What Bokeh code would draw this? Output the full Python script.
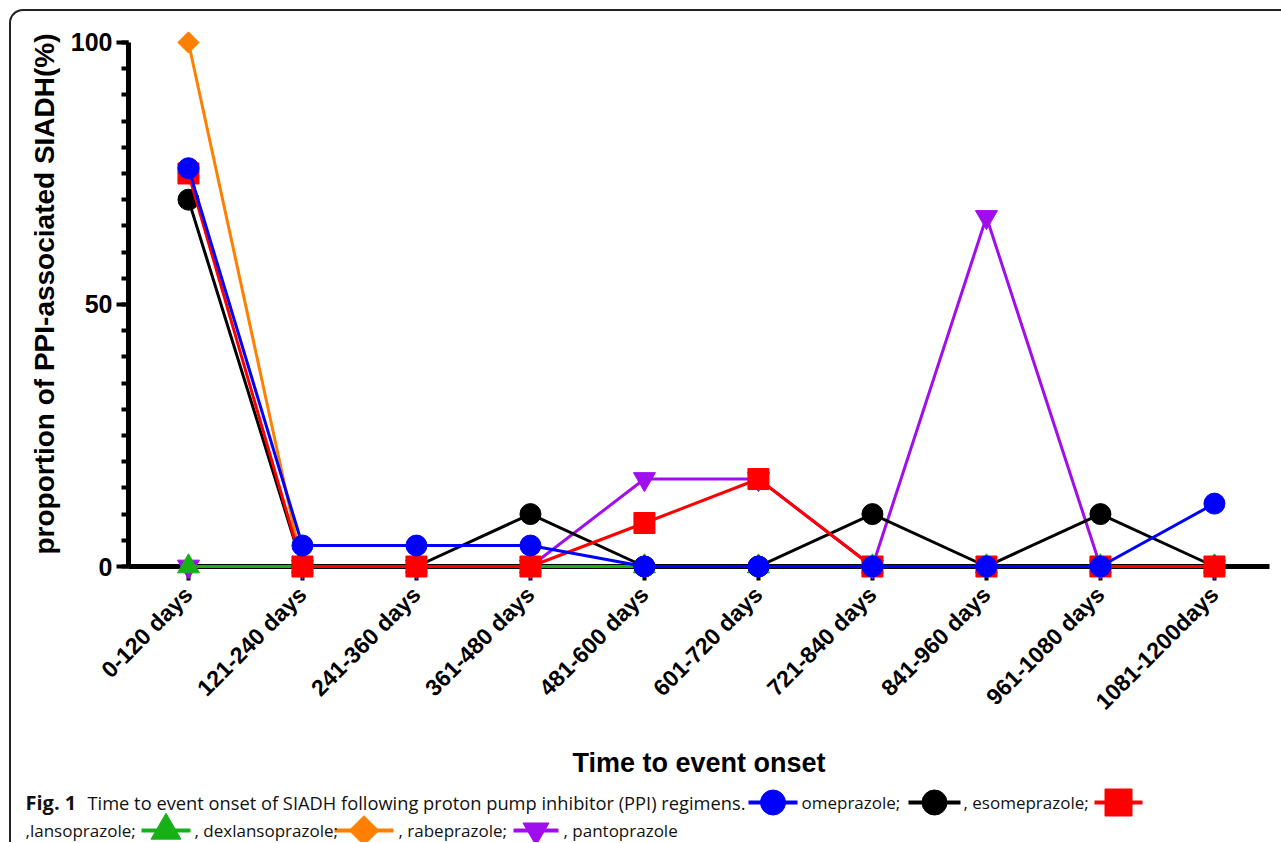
import math
from bokeh.plotting import figure
from bokeh.models import FixedTicker, Range1d, ColumnDataSource
from bokeh.layouts import column
from bokeh.embed import file_html
from bokeh.resources import INLINE
from bokeh.core.properties import value

# ---------------- data ----------------
categories = ["0-120 days", "121-240 days", "241-360 days", "361-480 days",
              "481-600 days", "601-720 days", "721-840 days", "841-960 days",
              "961-1080 days", "1081-1200days"]
omeprazole = [76, 4, 4, 4, 0, 0, 0, 0, 0, 12]
esomeprazole = [70, 0, 0, 10, 0, 0, 10, 0, 10, 0]
lansoprazole = [75, 0, 0, 0, 8.3, 16.7, 0, 0, 0, 0]
dexlansoprazole = [0, 0, 0, 0, 0, 0, 0, 0, 0, 0]
rabeprazole = [100, 0, 0, 0, 0, 0, 0, 0, 0, 0]
pantoprazole = [0, 0, 0, 0, 16.7, 16.7, 0, 66.7, 0, 0]
y_major_ticks = [0, 50, 100]
y_minor_ticks = [0, 5, 10, 15, 20, 25, 30, 35, 40, 45, 50, 55, 60, 65, 70,
                 75, 80, 85, 90, 95, 100]

series_names = ["pantoprazole", "rabeprazole", "dexlansoprazole",
                "esomeprazole", "lansoprazole", "omeprazole"]
series_values = [pantoprazole, rabeprazole, dexlansoprazole,
                 esomeprazole, lansoprazole, omeprazole]
series_colors = ["#A00EEE", "#FF7F00", "#18B018", "#000000", "#FF0000", "#0000FF"]
series_markers = ["inverted_triangle", "square", "triangle", "circle", "square", "circle"]
series_sizes = [22, 15, 22, 21, 21, 21]
series_angles = [0, math.pi / 4, 0, 0, 0, 0]

FONT = "Liberation Sans"
x_idx = list(range(len(categories)))

# ---------------- main chart ----------------
p = figure(width=1270, height=771,
           x_range=Range1d(-0.526, 9.483), y_range=Range1d(0, 104),
           output_backend="svg", toolbar_location=None,
           min_border_left=117, min_border_right=12, min_border_top=10,
           min_border_bottom=216)
p.outline_line_color = None
p.xgrid.visible = False
p.ygrid.visible = False
p.background_fill_color = None
p.border_fill_color = None

for name, vals, col, mk, sz, ang in zip(series_names, series_values, series_colors,
                                       series_markers, series_sizes, series_angles):
    src = ColumnDataSource(dict(x=x_idx, y=vals))
    rl = p.line("x", "y", source=src, line_color=col, line_width=3)
    rl.level = "overlay"
    rs = p.scatter("x", "y", source=src, marker=mk, size=sz, angle=ang,
                   fill_color=col, line_color=col, line_width=1)
    rs.level = "overlay"

# y axis
ya = p.yaxis[0]
ya.ticker = FixedTicker(ticks=y_major_ticks, minor_ticks=y_minor_ticks)
ya.bounds = (0, 100)
ya.axis_line_width = 5
ya.major_tick_line_width = 4
ya.minor_tick_line_width = 4
ya.major_tick_out = 12
ya.major_tick_in = 0
ya.minor_tick_out = 7
ya.minor_tick_in = 0
ya.major_label_text_font = FONT
ya.major_label_text_font_style = "bold"
ya.major_label_text_font_size = "25px"
ya.major_label_text_color = "black"
ya.major_label_standoff = 4
ya.axis_label = "proportion of PPI-associated SIADH(%)"
ya.axis_label_text_font = FONT
ya.axis_label_text_font_style = "bold"
ya.axis_label_text_font_size = "28px"
ya.axis_label_text_color = "black"
ya.axis_label_standoff = 8

# x axis
xa = p.xaxis[0]
xa.ticker = FixedTicker(ticks=x_idx, minor_ticks=[])
xa.major_label_overrides = {i: c for i, c in zip(x_idx, categories)}
xa.major_label_orientation = math.pi / 4
xa.axis_line_width = 5
xa.major_tick_line_width = 4
xa.major_tick_out = 14
xa.major_tick_in = 0
xa.minor_tick_out = 0
xa.minor_tick_in = 0
xa.major_label_text_font = FONT
xa.major_label_text_font_style = "bold"
xa.major_label_text_font_size = "23px"
xa.major_label_text_color = "black"
xa.major_label_standoff = 10
xa.axis_label = "Time to event onset"
xa.axis_label_text_font = FONT
xa.axis_label_text_font_style = "bold"
xa.axis_label_text_font_size = "27px"
xa.axis_label_text_color = "black"
xa.axis_label_standoff = 21

# ---------------- caption ----------------
cap_texts = ["omeprazole;", ", esomeprazole;", ",lansoprazole;",
             ", dexlansoprazole;", ", rabeprazole;", ", pantoprazole"]
cap_tx = [801, 963, 25, 194, 398, 563]
cap_ty = [802, 802, 830, 830, 830, 830]

leg_colors = ["#0000FF", "#000000", "#FF0000", "#18B018", "#FF7F00", "#A00EEE"]
leg_markers = ["circle", "circle", "square", "triangle", "square", "inverted_triangle"]
leg_sizes = [25, 25, 27, 30, 21, 26]
leg_angles = [0, 0, 0, 0, math.pi / 4, 0]
leg_x0 = [748, 908, 1094, 141, 334, 513]
leg_x1 = [797, 960, 1142, 190, 393, 558]
leg_y = [802, 802, 802, 830, 830, 830]

cap = figure(width=1270, height=60, x_range=Range1d(128, 1269), y_range=Range1d(842, 782),
             output_backend="svg", toolbar_location=None,
             x_axis_type=None, y_axis_type=None,
             min_border_left=117, min_border_right=12, min_border_top=0,
             min_border_bottom=0)
cap.outline_line_color = None
cap.xgrid.visible = False
cap.ygrid.visible = False
cap.background_fill_color = None
cap.border_fill_color = None

cap.segment(x0=leg_x0, y0=leg_y, x1=leg_x1, y1=leg_y, line_color=leg_colors, line_width=4)
cap.scatter(x=[(a + b) / 2 for a, b in zip(leg_x0, leg_x1)], y=leg_y, marker=leg_markers,
            size=leg_sizes, angle=leg_angles, fill_color=leg_colors, line_color=leg_colors)
r = cap.text(x=[25], y=[802], text=["Fig. 1"], text_font=value("Open Sans"),
             text_font_style="bold", text_font_size="20px", text_align="left",
             text_baseline="middle", text_color="#111111")
r.level = "overlay"
r = cap.text(x=[87], y=[802],
             text=["Time to event onset of SIADH following proton pump inhibitor (PPI) regimens."],
             text_font=value("Open Sans"), text_font_size="18.3px", text_align="left",
             text_baseline="middle", text_color="#111111")
r.level = "overlay"
r = cap.text(x=cap_tx, y=cap_ty, text=cap_texts, text_font=value("Open Sans"),
             text_font_size="17px", text_align="left",
             text_baseline="middle", text_color="#111111")
r.level = "overlay"

layout = column(p, cap, styles={"border-left": "2px solid #222222",
                                "border-top": "2px solid #222222",
                                "border-top-left-radius": "14px",
                                "margin-left": "9px", "margin-top": "9px"})

open("out.html", "w").write(file_html(layout, INLINE))
